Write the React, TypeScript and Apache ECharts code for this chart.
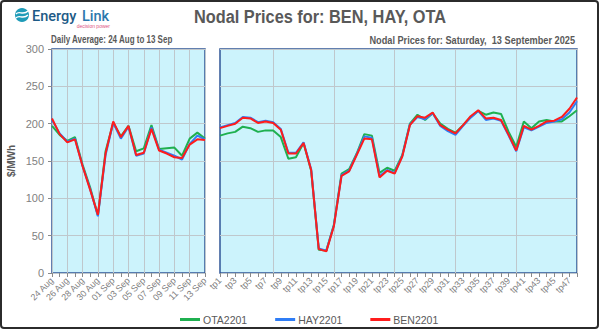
import React, { useEffect, useRef } from "react";
import * as echarts from "echarts";

const dayLabels = ["24 Aug","25 Aug","26 Aug","27 Aug","28 Aug","29 Aug","30 Aug","31 Aug","01 Sep","02 Sep","03 Sep","04 Sep","05 Sep","06 Sep","07 Sep","08 Sep","09 Sep","10 Sep","11 Sep","12 Sep","13 Sep"];
const dailyOTA = [197,185,177,182,145,114,77,163,201,183,197,163,167,198,166,167,168,157,180,188,180];
const dailyHAY = [205,187,176,180,143,112,76,158,201,180,196,157,160,195,165,161,157,152,173,184,179];
const dailyBEN = [207,186,175,179,143,111,78,160,203,182,197,158,161,193,164,160,155,154,172,179,178];

const tpLabels = ["tp1","tp2","tp3","tp4","tp5","tp6","tp7","tp8","tp9","tp10","tp11","tp12","tp13","tp14","tp15","tp16","tp17","tp18","tp19","tp20","tp21","tp22","tp23","tp24","tp25","tp26","tp27","tp28","tp29","tp30","tp31","tp32","tp33","tp34","tp35","tp36","tp37","tp38","tp39","tp40","tp41","tp42","tp43","tp44","tp45","tp46","tp47","tp48"];
const tpOTA = [184,187,189,196,194,189,191,191,182,153,155,174,137,31,30,65,133,139,160,186,184,134,141,137,158,200,212,205,214,200,193,188,198,209,217,212,215,213,189,169,203,194,203,205,203,203,210,218];
const tpHAY = [195,198,201,209,208,202,204,202,193,161,161,175,139,33,30,64,131,137,159,183,181,130,138,134,157,199,209,206,214,197,190,185,197,208,217,205,207,204,184,163,195,191,196,201,203,206,215,230];
const tpBEN = [194,197,200,208,207,201,203,201,192,160,160,174,138,32,29,63,130,136,158,180,179,128,137,133,156,198,210,208,215,198,192,187,198,210,218,207,208,205,185,164,197,192,197,203,204,209,220,235];

const seriesNames = ["OTA2201", "HAY2201", "BEN2201"];
const seriesColors = ["#1fb050", "#2f7df6", "#ff1c1c"];

export default function App() {
  const ref = useRef<HTMLDivElement>(null);
  useEffect(() => {
    if (!ref.current) return;
    const chart = echarts.init(ref.current, undefined, { renderer: "svg" });
    const font = "Liberation Sans";
    const axisLabelColor = "#7f7f7f";
    const gridLine = { show: true, lineStyle: { color: "#bfc7cc", width: 1 } };
    const dailyData = [dailyOTA, dailyHAY, dailyBEN];
    const tpData = [tpOTA, tpHAY, tpBEN];
    const series: any[] = [];
    seriesNames.forEach((n, i) => {
      series.push({
        name: n, type: "line", xAxisIndex: 0, yAxisIndex: 0, data: dailyData[i],
        symbol: "none", lineStyle: { width: 2, color: seriesColors[i] }, itemStyle: { color: seriesColors[i] }, z: 2 + i,
      });
      series.push({
        name: n, type: "line", xAxisIndex: 1, yAxisIndex: 1, data: tpData[i],
        symbol: "none", lineStyle: { width: 2, color: seriesColors[i] }, itemStyle: { color: seriesColors[i] }, z: 2 + i,
      });
    });
    const gridCommon = {
      top: 49, bottom: 56, show: true, backgroundColor: "#ccf3fc",
      borderColor: "#2f5597", borderWidth: 1.5, containLabel: false,
    };
    chart.setOption({
      animation: false,
      textStyle: { fontFamily: font },
      grid: [
        { ...gridCommon, left: 52, right: 395 },
        { ...gridCommon, left: 220, right: 23 },
      ],
      xAxis: [
        {
          type: "category", gridIndex: 0, data: dayLabels, boundaryGap: false,
          axisLine: { show: false },
          axisTick: { show: true, interval: 0, length: 4, lineStyle: { color: "#8a8a8a" } },
          axisLabel: { interval: 1, rotate: 45, fontSize: 9, color: axisLabelColor, margin: 6, fontFamily: font },
          splitLine: { ...gridLine, interval: 1 },
        },
        {
          type: "category", gridIndex: 1, data: tpLabels, boundaryGap: false,
          axisLine: { show: false },
          axisTick: { show: true, interval: 0, length: 4, lineStyle: { color: "#8a8a8a" } },
          axisLabel: { interval: 1, rotate: 45, fontSize: 9, color: axisLabelColor, margin: 6, fontFamily: font },
          splitLine: { ...gridLine, interval: (idx: number) => idx % 8 === 7 },
        },
      ],
      yAxis: [
        {
          type: "value", gridIndex: 0, min: 0, max: 300, interval: 50,
          name: "$/MWh", nameLocation: "middle", nameGap: 36,
          nameTextStyle: { fontSize: 10, color: "#595959", fontFamily: font, fontWeight: "bold" },
          axisLine: { show: false },
          axisTick: { show: true, length: 4, lineStyle: { color: "#8a8a8a" } },
          axisLabel: { fontSize: 11, color: axisLabelColor, margin: 8, fontFamily: font },
          splitLine: gridLine,
        },
        {
          type: "value", gridIndex: 1, min: 0, max: 300, interval: 50,
          axisLine: { show: false }, axisTick: { show: false }, axisLabel: { show: false },
          splitLine: gridLine,
        },
      ],
      legend: {
        data: seriesNames, left: 175, top: 309, itemWidth: 20, itemHeight: 3, itemGap: 28,
        icon: "rect",
        textStyle: { fontSize: 10.5, color: "#595959", fontFamily: font, padding: [0, 0, 0, -2] },
      },
      series,
      graphic: [
        { type: "rect", shape: { x: 1, y: 1, width: 597, height: 327, r: 3 }, style: { fill: "none", stroke: "#2b2b2b", lineWidth: 2 }, silent: true, z: 100 },
        { type: "text", x: 320, y: 17, scaleX: 0.86, style: { text: "Nodal Prices for: BEN, HAY, OTA", font: "bold 19px 'Liberation Sans'", fill: "#595959", align: "center", verticalAlign: "middle" } },
        { type: "text", x: 51, y: 40, scaleX: 0.8, style: { text: "Daily Average: 24 Aug to 13 Sep", font: "bold 10px 'Liberation Sans'", fill: "#595959", align: "left", verticalAlign: "middle" } },
        { type: "text", x: 575, y: 40, scaleX: 0.92, style: { text: "Nodal Prices for: Saturday,  13 September 2025", font: "bold 10px 'Liberation Sans'", fill: "#595959", align: "right", verticalAlign: "middle" } },
        { type: "circle", shape: { cx: 22, cy: 15, r: 7 }, style: { fill: "#1e9bb8" } },
        { type: "bezierCurve", shape: { x1: 16, y1: 14, cpx1: 19, cpy1: 10, cpx2: 23, cpy2: 16, x2: 28, y2: 11 }, style: { stroke: "#ffffff", lineWidth: 1.3, fill: "none" } },
        { type: "bezierCurve", shape: { x1: 16, y1: 18, cpx1: 19, cpy1: 14, cpx2: 23, cpy2: 20, x2: 28, y2: 15 }, style: { stroke: "#ffffff", lineWidth: 1.3, fill: "none" } },
        { type: "text", x: 32, y: 16, style: { text: "Energy", font: "500 14.5px Roboto", fill: "#1d5a86", align: "left", verticalAlign: "middle" } },
        { type: "text", x: 82, y: 16, style: { text: "Link", font: "500 14.5px Roboto", fill: "#2b78ad", align: "left", verticalAlign: "middle" } },
        { type: "text", x: 110, y: 26, style: { text: "decision power", font: "5px 'Liberation Sans'", fill: "#e0527f", align: "right", verticalAlign: "middle" } },
      ],
    });
    return () => chart.dispose();
  }, []);
  return (
    <div style={{ position: "fixed", left: 0, top: 0, width: 600, height: 329, background: "#ffffff" }}>
      <div ref={ref} style={{ width: 600, height: 329 }} />
    </div>
  );
}
